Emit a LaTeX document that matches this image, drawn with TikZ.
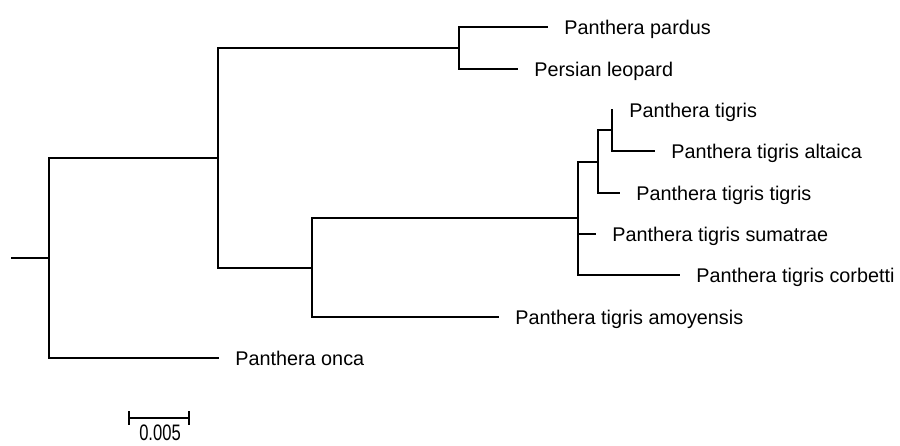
\documentclass[tikz,border=0pt]{standalone}
\usepackage{fontspec}
\setmainfont{Liberation Sans}
\newfontfamily\narrowsans[FakeStretch=0.74]{Liberation Sans}
\usetikzlibrary{positioning}

\tikzset{
    branch/.style={draw=black, line width=0.8pt},
    taxon/.style={anchor=west, inner sep=0pt, text height=7pt, text depth=0pt,
        font=\fontsize{9.9pt}{11pt}\selectfont},
    scalelabel/.style={anchor=base, inner sep=0pt, text depth=0pt,
        font=\narrowsans\fontsize{11.2pt}{12pt}\selectfont}
}

\begin{document}
\begin{tikzpicture}[x=0.5pt, y=-0.5pt, node distance=8pt]
    \useasboundingbox (0,0) rectangle (900,445);

    % inner nodes of the tree
    \coordinate (root) at (11,258);
    \coordinate (n1) at (49,258);
    \coordinate (n2) at (218,158);
    \coordinate (n3) at (459,48);
    \coordinate (n4) at (312,268);
    \coordinate (n5) at (578,218);
    \coordinate (n6) at (598,162);
    \coordinate (n7) at (612,130);

    % ends of the leaf branches
    \coordinate (lpardus) at (548,27);
    \coordinate (lpersian) at (518,69);
    \coordinate (ltigris) at (613,110);
    \coordinate (laltaica) at (655,151);
    \coordinate (ltt) at (620,193);
    \coordinate (lsumatrae) at (596,234);
    \coordinate (lcorbetti) at (680,275);
    \coordinate (lamoy) at (499,317);
    \coordinate (lonca) at (219,358);

    \node[taxon, right=of lpardus] (pardus) {Panthera pardus};
    \node[taxon, right=of lpersian] (persian) {Persian leopard};
    \node[taxon, right=of ltigris] (tigris) {Panthera tigris};
    \node[taxon, right=of laltaica] (altaica) {Panthera tigris altaica};
    \node[taxon, right=of ltt] (tt) {Panthera tigris tigris};
    \node[taxon, right=of lsumatrae] (sumatrae) {Panthera tigris sumatrae};
    \node[taxon, right=of lcorbetti] (corbetti) {Panthera tigris corbetti};
    \node[taxon, right=of lamoy] (amoy) {Panthera tigris amoyensis};
    \node[taxon, right=of lonca] (onca) {Panthera onca};

    \draw[branch] (root) -- (n1);
    \draw[branch] (n1) |- (n2);
    \draw[branch] (n1) |- (lonca);
    \draw[branch] (n2) |- (n3);
    \draw[branch] (n2) |- (n4);
    \draw[branch] (n3) |- (lpardus);
    \draw[branch] (n3) |- (lpersian);
    \draw[branch] (n4) |- (n5);
    \draw[branch] (n4) |- (lamoy);
    \draw[branch] (n5) |- (n6);
    \draw[branch] (n5) |- (lsumatrae);
    \draw[branch] (n5) |- (lcorbetti);
    \draw[branch] (n6) |- (n7);
    \draw[branch] (n6) |- (ltt);
    \draw[branch] (n7) |- (ltigris);
    \draw[branch] (n7) |- (laltaica);

    % scale bar
    \coordinate (sbleft) at (129,418);
    \coordinate (sbright) at (189,418);
    \draw[branch] (sbleft) -- (sbright);
    \draw[branch] (sbleft) ++(0,-7) -- ++(0,14);
    \draw[branch] (sbright) ++(0,-7) -- ++(0,14);
    \node[scalelabel] (sblabel) at (160,440) {0.005};
\end{tikzpicture}
\end{document}
